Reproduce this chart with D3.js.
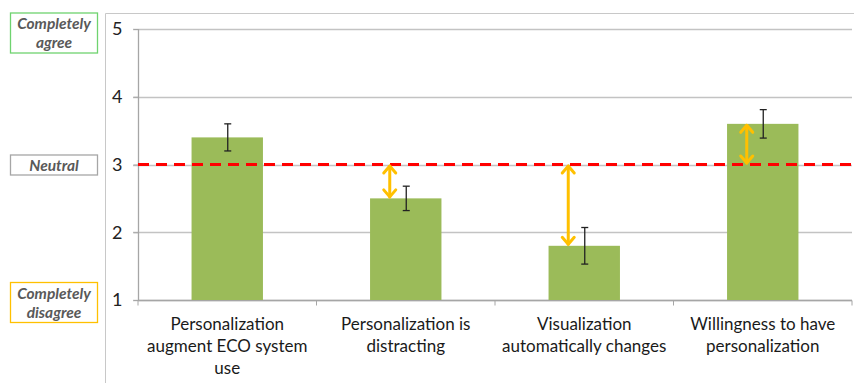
<!DOCTYPE html>
<html><head><meta charset="utf-8">
<script src="https://cdn.jsdelivr.net/npm/d3@7"></script>
<style>
html,body{margin:0;padding:0;background:#fff;}
svg{display:block;}
text{font-family:Lato,"Open Sans",sans-serif;}
</style></head>
<body>
<svg id="chart" width="854" height="383"></svg>
<script>
const categories = ["Personalization augment ECO system use","Personalization is distracting","Visualization automatically changes","Willingness to have personalization"];
const categoryLines = [["Personalization","augment ECO system","use"],["Personalization is","distracting"],["Visualization","automatically changes"],["Willingness to have","personalization"]];
const means = [3.4, 2.5, 1.8, 3.6];
const errors = [0.2, 0.18, 0.27, 0.21];
const neutralValue = 3;
const yTicks = [1, 2, 3, 4, 5];
const scaleLabels = [
  {lines:["Completely","agree"], value:5, color:"#6fd36f"},
  {lines:["Neutral"], value:3, color:"#a6a6a6"},
  {lines:["Completely","disagree"], value:1, color:"#ffc000"}
];

const svg = d3.select("#chart");
const mLeft = 138, mRight = 852, mTop = 29, mBottom = 300;
const x = d3.scaleBand().domain(categories).range([mLeft, mRight]).paddingInner(0.6).paddingOuter(0.3);
const y = d3.scaleLinear().domain([1, 5]).range([mBottom, mTop]);

// outer frame lines
svg.append("line").attr("x1",105.5).attr("x2",854).attr("y1",13.5).attr("y2",13.5).attr("stroke","#c8c8c8");
svg.append("line").attr("x1",105.5).attr("x2",105.5).attr("y1",13.5).attr("y2",383).attr("stroke","#c8c8c8");

// gridlines
svg.append("g").selectAll("line").data(yTicks).join("line")
  .attr("x1", mLeft-5).attr("x2", mRight)
  .attr("y1", d=>Math.round(y(d))+0.5).attr("y2", d=>Math.round(y(d))+0.5)
  .attr("stroke","#c3c3c3").attr("stroke-width",1.3);

// y axis
const yAxis = svg.append("g").attr("transform",`translate(${mLeft+0.5},0)`)
  .call(d3.axisLeft(y).tickValues(yTicks).tickFormat(d3.format("d")).tickSize(5).tickPadding(11));
yAxis.select(".domain").attr("stroke","#a6a6a6").attr("stroke-width",1.3).attr("d",`M0,${mTop}V${mBottom}`);
yAxis.selectAll(".tick line").attr("stroke","#a6a6a6");
yAxis.selectAll(".tick text").attr("font-size",18).attr("fill","#222").attr("font-family","Lato,sans-serif");

// x axis
const xAxisG = svg.append("g").attr("transform",`translate(0,${mBottom+0.5})`);
xAxisG.append("line").attr("x1",mLeft).attr("x2",mRight).attr("stroke","#a6a6a6").attr("stroke-width",1.3);
const boundaries = d3.range(categories.length+1).map(i => mLeft + i*(mRight-mLeft)/categories.length);
xAxisG.selectAll("line.tk").data(boundaries).join("line").attr("class","tk")
  .attr("x1",d=>d).attr("x2",d=>d).attr("y1",0).attr("y2",5).attr("stroke","#a6a6a6");

// bars
svg.append("g").selectAll("rect").data(categories).join("rect")
  .attr("x", d=>x(d)).attr("width", x.bandwidth())
  .attr("y", (d,i)=>y(means[i])).attr("height",(d,i)=>y(1)-y(means[i]))
  .attr("fill","#9bbb59");

// neutral dashed line
svg.append("line").attr("x1",mLeft).attr("x2",mRight)
  .attr("y1",y(neutralValue)).attr("y2",y(neutralValue))
  .attr("stroke","#ff0000").attr("stroke-width",3).attr("stroke-dasharray","11,7");

// error bars
const eb = svg.append("g").attr("stroke","#222").attr("stroke-width",1.3);
categories.forEach((c,i)=>{
  const cx = x(c) + x.bandwidth()/2 + 0.5;
  eb.append("line").attr("x1",cx).attr("x2",cx).attr("y1",y(means[i]+errors[i])).attr("y2",y(means[i]-errors[i]));
  eb.append("line").attr("x1",cx-3.5).attr("x2",cx+3.5).attr("y1",y(means[i]+errors[i])).attr("y2",y(means[i]+errors[i]));
  eb.append("line").attr("x1",cx-3.5).attr("x2",cx+3.5).attr("y1",y(means[i]-errors[i])).attr("y2",y(means[i]-errors[i]));
});

// difference arrows (orange double-headed) for categories 2-4
const ar = svg.append("g").attr("stroke","#ffc000").attr("stroke-width",3).attr("fill","none").attr("stroke-linecap","round").attr("stroke-linejoin","round");
categories.forEach((c,i)=>{
  if (i===0) return;
  const ax = x(c) + x.bandwidth()/2 - 16;
  const y1 = y(Math.max(means[i], neutralValue)) + 1.5;
  const y2 = y(Math.min(means[i], neutralValue)) - 1.5;
  ar.append("line").attr("x1",ax).attr("x2",ax).attr("y1",y1).attr("y2",y2);
  ar.append("path").attr("d",`M${ax-6},${y1+7}L${ax},${y1}L${ax+6},${y1+7}`);
  ar.append("path").attr("d",`M${ax-6},${y2-7}L${ax},${y2}L${ax+6},${y2-7}`);
});

// category labels
const lab = svg.append("g");
categories.forEach((c,i)=>{
  const cx = x(c) + x.bandwidth()/2;
  const t = lab.append("text").attr("text-anchor","middle").attr("font-size",17).attr("fill","#1a1a1a");
  categoryLines[i].forEach((ln,j)=>{
    t.append("tspan").attr("x",cx).attr("y",330+j*22).text(ln);
  });
});

// scale annotation boxes
scaleLabels.forEach(s=>{
  const h = s.lines.length===2 ? 40 : 20;
  const cy = s.value===5 ? 33 : (s.value===1 ? 302.5 : y(s.value)+0.5);
  const g = svg.append("g");
  g.append("rect").attr("x",10.5).attr("y",cy-h/2).attr("width",87).attr("height",h)
    .attr("fill","#fff").attr("stroke",s.color).attr("stroke-width",1.3);
  const t = g.append("text").attr("text-anchor","middle").attr("font-size",15.5)
    .attr("font-weight","bold").attr("font-style","italic").attr("fill","#595959");
  s.lines.forEach((ln,j)=>{
    t.append("tspan").attr("x",54).attr("y", cy - (s.lines.length-1)*9.5 + j*19 + 5.5).text(ln);
  });
});
</script>
</body></html>
